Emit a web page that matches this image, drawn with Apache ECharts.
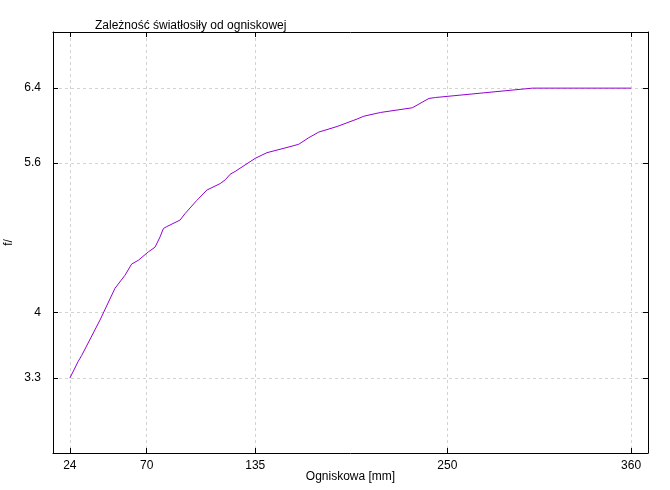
<!DOCTYPE html>
<html>
<head>
<meta charset="utf-8">
<script src="https://cdn.jsdelivr.net/npm/echarts@6/dist/echarts.min.js"></script>
<style>html,body{margin:0;padding:0;background:#fff}#c{width:670px;height:490px}</style>
</head>
<body>
<div id="c"></div>
<script>
var focal = [24, 29, 31, 42, 51, 57, 61, 65, 71, 75, 78, 80, 82, 90, 93, 100, 106, 114, 117, 120, 123, 135, 142, 157, 161, 167, 173, 184, 196, 200, 210, 229, 239, 243, 301, 360];
var aperture = [3.3, 3.48, 3.54, 3.92, 4.26, 4.4, 4.52, 4.56, 4.65, 4.7, 4.81, 4.9, 4.92, 4.99, 5.06, 5.2, 5.31, 5.38, 5.42, 5.48, 5.51, 5.65, 5.71, 5.78, 5.8, 5.87, 5.93, 5.99, 6.07, 6.1, 6.14, 6.19, 6.29, 6.3, 6.4, 6.4];
var xTicks = [24, 70, 135, 250, 360];
var yTicks = [3.3, 4, 5.6, 6.4];

var points = focal.map(function (f, i) { return [f, aperture[i]]; });
var font = 'Liberation Sans, Arial, sans-serif';
var grid = { left: 53, top: 32, right: 22, bottom: 37, outerBoundsMode: 'none', containLabel: false };
var split = { show: true, lineStyle: { color: '#d3d3d3', type: [3, 3], width: 1 } };

var chart = echarts.init(document.getElementById('c'));
chart.setOption({
  animation: false,
  title: {
    text: 'Zależność światłosiły od ogniskowej',
    left: 90, top: 15,
    textStyle: { fontFamily: font, fontSize: 12, fontWeight: 'normal', color: '#000' }
  },
  grid: grid,
  xAxis: [{
    type: 'value', min: 13.9, max: 370.1, position: 'bottom',
    name: 'Ogniskowa [mm]', nameLocation: 'middle', nameGap: 18, nameMoveOverlap: false,
    nameTextStyle: { fontFamily: font, fontSize: 12, color: '#000' },
    axisLine: { show: true, lineStyle: { color: '#000', width: 1 } },
    axisTick: { show: true, inside: true, length: 5, customValues: xTicks, lineStyle: { color: '#000' } },
    axisLabel: { customValues: xTicks, fontFamily: font, fontSize: 12, color: '#000', margin: 7 },
    splitLine: split
  }, {
    type: 'value', min: 13.9, max: 370.1, position: 'top',
    axisLine: { show: true, onZero: false, lineStyle: { color: '#000', width: 1 } },
    axisTick: { show: true, inside: true, length: 5, customValues: xTicks, lineStyle: { color: '#000' } },
    axisLabel: { show: false },
    splitLine: { show: false }
  }],
  yAxis: [{
    type: 'value', min: 2.5, max: 7.0, position: 'left',
    name: 'f/', nameLocation: 'middle', nameGap: 38, nameRotate: 90, nameMoveOverlap: false,
    nameTextStyle: { fontFamily: font, fontSize: 12, color: '#000' },
    axisLine: { show: true, lineStyle: { color: '#000', width: 1 } },
    axisTick: { show: true, inside: true, length: 5, customValues: yTicks, lineStyle: { color: '#000' } },
    axisLabel: { customValues: yTicks, fontFamily: font, fontSize: 12, color: '#000', margin: 12 },
    splitLine: split
  }, {
    type: 'value', min: 2.5, max: 7.0, position: 'right',
    axisLine: { show: true, onZero: false, lineStyle: { color: '#000', width: 1 } },
    axisTick: { show: true, inside: true, length: 5, customValues: yTicks, lineStyle: { color: '#000' } },
    axisLabel: { show: false },
    splitLine: { show: false }
  }],
  series: [{
    type: 'line',
    data: points,
    xAxisIndex: 0, yAxisIndex: 0,
    showSymbol: false,
    lineStyle: { color: '#9400D3', width: 1 },
    itemStyle: { color: '#9400D3' }
  }]
});
</script>
</body>
</html>
